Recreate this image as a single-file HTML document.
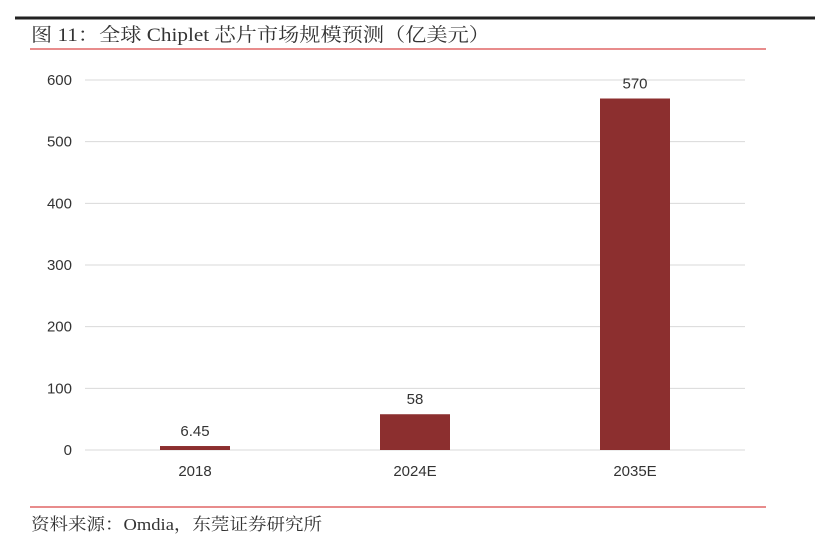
<!DOCTYPE html>
<html><head><meta charset="utf-8"><style>
body{margin:0;width:815px;height:546px;background:#fff;overflow:hidden;font-family:"Liberation Sans","Noto Sans CJK SC",sans-serif;}
</style></head><body>
<svg width="815" height="546">
<line x1="15" y1="18" x2="815" y2="18" stroke="#222" stroke-width="3"/>
<text x="31" y="41" font-size="19" fill="#333" textLength="459" lengthAdjust="spacingAndGlyphs" font-family="Liberation Serif,Noto Serif CJK SC,serif">图 11：全球 Chiplet 芯片市场规模预测（亿美元）</text>
<line x1="30" y1="49" x2="766" y2="49" stroke="#e06666" stroke-width="1.5"/>
<g id="grid"></g><g id="bars"></g>
<line x1="30" y1="507" x2="766" y2="507" stroke="#e06666" stroke-width="1.5"/>
<text x="31" y="530" font-size="17" fill="#333" textLength="291" lengthAdjust="spacingAndGlyphs" font-family="Liberation Serif,Noto Serif CJK SC,serif">资料来源：Omdia，东莞证券研究所</text>
</svg>
<script>
const categories=["2018","2024E","2035E"];
const values=[6.45,58,570];
const valueLabels=["6.45","58","570"];
const ticks=[0,100,200,300,400,500,600];
const ns="http://www.w3.org/2000/svg";
const x0=85,x1=745,yb=450,yt=80,max=600;
const y=v=>yb-(v/max)*(yb-yt);
const band=(x1-x0)/categories.length;
const xc=i=>x0+band*(i+0.5);
function mk(t,a,p){const e=document.createElementNS(ns,t);for(const k in a)e.setAttribute(k,a[k]);p.appendChild(e);return e;}
const g=document.getElementById('grid'),b=document.getElementById('bars');
ticks.forEach(t=>{
 const l=mk('line',{x1:x0,x2:x1,y1:y(t),y2:y(t),stroke:'#d9d9d9','stroke-width':1},g);
 
 
 const tx=mk('text',{x:72,y:y(t)+5,'font-size':15,fill:'#333','text-anchor':'end'},g);
 tx.textContent=t;
 
 
});
categories.forEach((c,i)=>{
 const w=70;
 const r=mk('rect',{x:xc(i)-w/2,y:y(values[i]),width:w,height:yb-y(values[i]),fill:'#8c2f2f'},b);
 
 
 const v=mk('text',{x:xc(i),y:y(values[i])-10,'font-size':15,fill:'#333','text-anchor':'middle'},b);
 v.textContent=valueLabels[i];
 
 
 const xl=mk('text',{x:xc(i),y:476,'font-size':15,fill:'#333','text-anchor':'middle'},b);
 xl.textContent=c;
 
 
});
</script>
</body></html>
